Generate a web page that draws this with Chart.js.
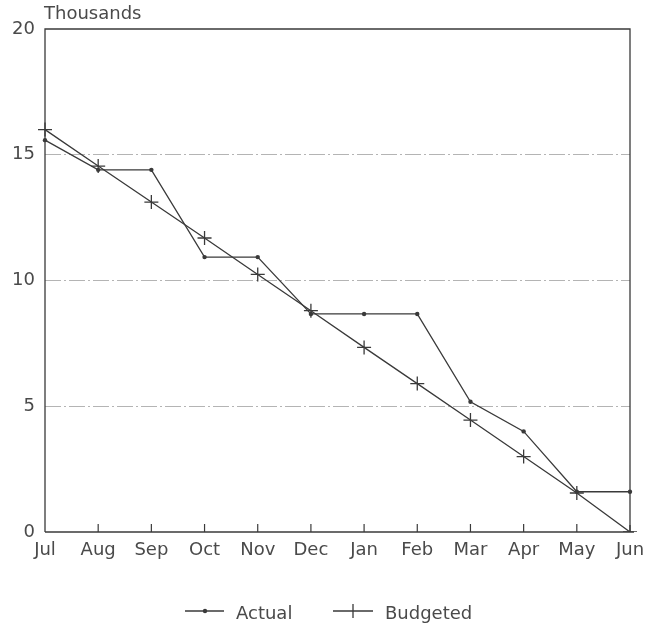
<!DOCTYPE html>
<html>
<head>
<meta charset="utf-8">
<script src="https://cdn.jsdelivr.net/npm/chart.js@4"></script>
<style>
  html, body { margin: 0; padding: 0; background: #fff; }
  #wrap { width: 663px; height: 628px; }
</style>
</head>
<body>
<div id="wrap"><canvas id="budgetChart" width="663" height="628"></canvas></div>
<script>
// valores (milhares)
const months = ['Jul', 'Aug', 'Sep', 'Oct', 'Nov', 'Dec', 'Jan', 'Feb', 'Mar', 'Apr', 'May', 'Jun'];
const actual = [15.58, 14.4, 14.4, 10.93, 10.93, 8.67, 8.67, 8.67, 5.18, 4.0, 1.6, 1.6];
const budgeted = [16.0, 14.55, 13.12, 11.69, 10.24, 8.8, 7.34, 5.9, 4.45, 3.0, 1.55, 0];
const yTicks = [0, 5, 10, 15, 20];

const ink = '#3a3a3a';
const textInk = '#4a4a4a';
const fontFamily = '"DejaVu Sans", sans-serif';

// moldura, ticks internos do eixo x, título e legenda
const decorations = {
    id: 'decorations',
    beforeDatasetsDraw(chart) {
        const { ctx, chartArea: a, scales: { x } } = chart;
        ctx.save();
        ctx.strokeStyle = ink;
        ctx.lineWidth = 1.3;
        ctx.setLineDash([]);
        ctx.beginPath();
        ctx.moveTo(a.left, a.bottom);
        ctx.lineTo(a.left, a.top);
        ctx.lineTo(a.right, a.top);
        ctx.lineTo(a.right, a.bottom);
        ctx.stroke();
        ctx.beginPath();
        ctx.moveTo(a.left, a.bottom);
        ctx.lineTo(a.right + 4, a.bottom);
        ctx.stroke();
        ctx.lineWidth = 1.2;
        months.forEach((m, i) => {
            if (i === 0 || i === months.length - 1) return;
            const px = x.getPixelForValue(i);
            ctx.beginPath();
            ctx.moveTo(px, a.bottom);
            ctx.lineTo(px, a.bottom - 8);
            ctx.stroke();
        });
        ctx.restore();
    },
    afterDraw(chart) {
        const { ctx, chartArea: a } = chart;
        ctx.save();
        ctx.fillStyle = textInk;
        ctx.font = '18px ' + fontFamily;
        ctx.textBaseline = 'middle';
        ctx.textAlign = 'left';
        ctx.fillText('Thousands', a.left - 1, 14);

        // legenda
        const ly = 611;
        ctx.strokeStyle = ink;
        ctx.lineWidth = 1.3;
        ctx.beginPath();
        ctx.moveTo(185, ly); ctx.lineTo(224, ly);
        ctx.stroke();
        ctx.fillStyle = ink;
        ctx.beginPath();
        ctx.arc(205, ly, 2.2, 0, Math.PI * 2);
        ctx.fill();
        ctx.fillStyle = textInk;
        ctx.fillText('Actual', 236, ly + 3);

        ctx.beginPath();
        ctx.moveTo(333, ly); ctx.lineTo(373, ly);
        ctx.moveTo(353, ly - 7); ctx.lineTo(353, ly + 7);
        ctx.stroke();
        ctx.fillText('Budgeted', 385, ly + 3);
        ctx.restore();
    }
};

const ctx = document.getElementById('budgetChart').getContext('2d');
const budgetChart = new Chart(ctx, {
    type: 'line',
    data: {
        labels: months,
        datasets: [{
            label: 'Actual',
            data: actual,
            borderColor: ink,
            backgroundColor: ink,
            borderWidth: 1.3,
            pointStyle: 'circle',
            pointRadius: 2.2,
            pointBorderWidth: 0,
            tension: 0,
            fill: false
        }, {
            label: 'Budgeted',
            data: budgeted,
            borderColor: ink,
            backgroundColor: ink,
            borderWidth: 1.3,
            pointStyle: 'cross',
            pointRadius: 7,
            pointBorderWidth: 1.3,
            tension: 0,
            fill: false
        }]
    },
    options: {
        responsive: false,
        animation: false,
        layout: { padding: { top: 29, right: 33, bottom: 66, left: 0 } },
        plugins: {
            legend: { display: false },
            tooltip: { enabled: false }
        },
        scales: {
            x: {
                offset: false,
                grid: { display: false, drawTicks: false },
                border: { display: false },
                ticks: {
                    color: textInk,
                    font: { family: fontFamily, size: 18 },
                    padding: 8,
                    maxRotation: 0,
                    autoSkip: false
                },
                afterFit(scale) { scale.height = 30; }
            },
            y: {
                min: 0,
                max: 20,
                afterBuildTicks(scale) { scale.ticks = yTicks.map(v => ({ value: v })); },
                grid: {
                    drawTicks: false,
                    color: c => (c.tick && (c.tick.value === 0 || c.tick.value === 20)) ? 'rgba(0,0,0,0)' : '#b4b4b4',
                    lineWidth: 1
                },
                // em v4 o tracejado das linhas de grade vem de border.dash
                border: { display: false, dash: [16, 3, 2, 3] },
                ticks: {
                    color: textInk,
                    font: { family: fontFamily, size: 18 },
                    padding: 10
                },
                afterFit(scale) { scale.width = 45; }
            }
        }
    },
    plugins: [decorations]
});
</script>
</body>
</html>
